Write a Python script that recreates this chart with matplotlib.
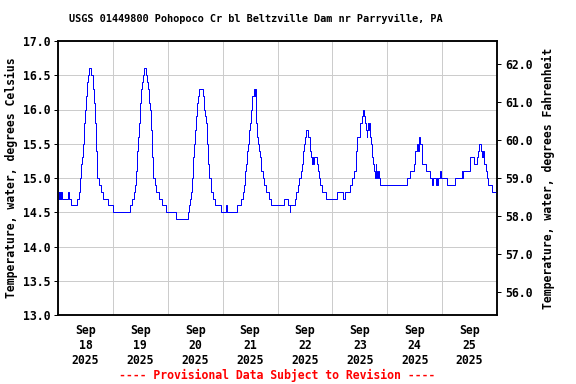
import matplotlib
matplotlib.use("Agg")
import matplotlib.pyplot as plt
import numpy as np

# Hours since Sep 18 00:00 at which the (0.1 degC resolution) reading changes, and the new value
hours = [0, 0.25, 0.5, 0.75, 1.0, 1.25, 1.5, 1.75, 4.5, 4.75, 5.75, 8.5, 9.0, 9.5, 9.75,
         10.0, 10.25, 10.5, 10.75, 11.0, 11.25, 11.5, 11.75, 12.0, 12.25, 12.5, 12.75, 13.0,
         13.5, 14.5, 15.25, 15.5, 15.75, 16.0, 16.25, 16.5, 16.75, 17.0, 17.25, 17.75, 18.75,
         19.75, 21.75, 24.25,
         31.5, 32.5, 33.25, 33.75, 34.0, 34.25, 34.5, 34.75, 35.0, 35.25, 35.5, 35.75, 36.0,
         36.25, 36.75, 37.25, 37.5, 38.5, 39.0, 39.5, 40.0, 40.25, 40.5, 40.75, 41.0, 41.25,
         41.5, 41.75, 42.25, 42.75, 44.0, 45.5, 47.25, 51.75, 56.75,
         57.25, 57.75, 58.0, 58.5, 58.75, 59.0, 59.25, 59.5, 59.75, 60.0, 60.25, 60.5, 60.75,
         61.0, 61.25, 61.75, 63.25, 63.75, 64.0, 64.5, 64.75, 65.0, 65.25, 65.5, 65.75, 66.0,
         66.25, 66.75, 67.0, 67.75, 68.75, 71.5, 73.5, 73.75,
         78.5, 80.25, 81.0, 81.5, 81.75, 82.0, 82.25, 82.5, 82.75, 83.25, 83.5, 83.75, 84.0,
         84.25, 84.5, 84.75, 85.0, 85.75, 86.0, 86.25, 86.5, 86.75, 87.0, 87.5, 88.0, 88.25,
         88.75, 89.0, 89.5, 90.25, 91.0, 92.25, 93.25,
         98.75, 100.5, 101.25, 101.5, 103.5, 104.0, 105.0, 105.5, 106.25, 106.75, 107.0,
         107.25, 107.75, 108.0, 108.5, 109.5, 110.0, 110.25, 110.75, 111.0, 111.25, 111.5,
         111.75, 113.25, 113.75, 114.25, 114.75, 115.25, 117.25, 122.0, 124.5, 125.5, 127.75,
         128.5, 129.25, 130.25, 130.5, 130.75, 132.0, 132.25, 132.75, 133.25, 134.0, 134.25,
         134.5, 135.0, 135.25, 135.5, 135.75, 136.0, 136.25, 137.0, 137.25, 137.75, 138.25,
         138.5, 139.0, 139.25, 139.5, 140.0, 140.25, 141.0, 152.5, 153.75, 155.5, 156.25,
         157.0, 157.5, 157.75, 158.0, 158.5, 159.0, 159.25, 160.75,
         162.5, 163.75, 164.0, 165.5, 165.75, 165.9, 166.2, 166.9, 167.1, 167.4, 167.7,
         170.25, 173.75, 176.5, 176.9, 177.1, 177.5, 180.0, 181.75, 183.25, 183.75, 184.25,
         185.0, 185.25, 185.5, 185.75, 186.0, 186.5, 187.0, 187.5, 188.0, 190.0, 192.0]
temps_c = [14.8, 14.7, 14.8, 14.7, 14.8, 14.7, 14.8, 14.7, 14.8, 14.7, 14.6, 14.7, 14.8, 14.9, 15.0,
           15.1, 15.2, 15.3, 15.4, 15.5, 15.7, 15.8, 15.9, 16.0, 16.2, 16.3, 16.4, 16.5,
           16.6, 16.5, 16.4, 16.3, 16.1, 16.0, 15.8, 15.6, 15.4, 15.2, 15.0, 14.9, 14.8,
           14.7, 14.6, 14.5,
           14.6, 14.7, 14.8, 14.9, 15.0, 15.1, 15.3, 15.4, 15.6, 15.7, 15.8, 16.0, 16.1,
           16.3, 16.4, 16.5, 16.6, 16.5, 16.4, 16.3, 16.1, 16.0, 15.9, 15.7, 15.5, 15.3,
           15.1, 15.0, 14.9, 14.8, 14.7, 14.6, 14.5, 14.4, 14.5,
           14.6, 14.7, 14.8, 14.9, 15.0, 15.2, 15.3, 15.5, 15.6, 15.7, 15.8, 15.9, 16.0,
           16.1, 16.2, 16.3, 16.2, 16.1, 16.0, 15.9, 15.8, 15.7, 15.5, 15.4, 15.2, 15.1,
           15.0, 14.9, 14.8, 14.7, 14.6, 14.5, 14.6, 14.5,
           14.6, 14.7, 14.8, 14.9, 15.0, 15.1, 15.2, 15.3, 15.4, 15.5, 15.6, 15.7, 15.8,
           15.9, 16.0, 16.1, 16.2, 16.3, 16.2, 16.3, 16.0, 15.8, 15.6, 15.5, 15.4, 15.3,
           15.2, 15.1, 15.0, 14.9, 14.8, 14.7, 14.6,
           14.7, 14.6, 14.5, 14.6, 14.7, 14.8, 14.9, 15.0, 15.1, 15.2, 15.3,
           15.4, 15.5, 15.6, 15.7, 15.6, 15.5, 15.4, 15.3, 15.2, 15.3, 15.2,
           15.3, 15.2, 15.1, 15.0, 14.9, 14.8, 14.7, 14.8, 14.7, 14.8, 14.9,
           15.0, 15.1, 15.3, 15.4, 15.6, 15.7, 15.8, 15.9, 16.0, 15.9, 15.8,
           15.7, 15.6, 15.7, 15.8, 15.7, 15.8, 15.6, 15.5, 15.3, 15.2, 15.1,
           15.0, 15.2, 15.1, 15.0, 15.1, 15.0, 14.9, 15.0, 15.1, 15.2, 15.4,
           15.5, 15.4, 15.5, 15.6, 15.5, 15.4, 15.2, 15.1,
           15.0, 14.9, 15.0, 14.9, 15.0, 14.9, 15.0, 15.0, 15.1, 15.1, 15.0,
           14.9, 15.0, 15.1, 15.0, 15.1, 15.1, 15.3, 15.2, 15.3, 15.4, 15.5,
           15.4, 15.3, 15.4, 15.3, 15.4, 15.2, 15.1, 15.0, 14.9, 14.8, 14.8]

day_labels = ["Sep\n18\n2025", "Sep\n19\n2025", "Sep\n20\n2025", "Sep\n21\n2025",
              "Sep\n22\n2025", "Sep\n23\n2025", "Sep\n24\n2025", "Sep\n25\n2025"]
celsius_ticks = [13.0, 13.5, 14.0, 14.5, 15.0, 15.5, 16.0, 16.5, 17.0]
fahrenheit_ticks = [56.0, 57.0, 58.0, 59.0, 60.0, 61.0, 62.0]

title = "USGS 01449800 Pohopoco Cr bl Beltzville Dam nr Parryville, PA"
left_label = "Temperature, water, degrees Celsius"
right_label = "Temperature, water, degrees Fahrenheit"
footer = "---- Provisional Data Subject to Revision ----"

FONT = "DejaVu Sans Mono"
plt.rcParams['font.family'] = [FONT]
plt.rcParams['font.weight'] = 'bold'
FS = 11.5

fig = plt.figure(figsize=(8, 384 / 72), dpi=72)
ax = fig.add_axes([58 / 576, 1 - 315 / 384, (497 - 58) / 576, (315 - 41) / 384])

ax.plot(hours, temps_c, drawstyle='steps-post', color='#0000FF', linewidth=1.0, zorder=3)

ax.set_xlim(0, 192)
ax.set_ylim(13.0, 17.0)
ax.set_yticks(celsius_ticks)
ax.set_yticklabels([f"{v:.1f}" for v in celsius_ticks], fontsize=FS, fontweight='bold')

days = np.arange(len(day_labels))
ax.set_xticks(days * 24)
ax.set_xticklabels([])
ax.set_xticks(days * 24 + 12, minor=True)
ax.set_xticklabels(day_labels, minor=True, fontsize=FS, fontweight='bold', linespacing=1.2)
ax.tick_params(axis='x', which='both', length=0, pad=9)
ax.tick_params(axis='y', length=4, width=1, direction='out', pad=3)

ax.grid(True, which='major', color='#cccccc', linewidth=1.0, zorder=0)
ax.set_axisbelow(True)
for s in ax.spines.values():
    s.set_linewidth(1.5)
    s.set_color('black')

ax.set_ylabel(left_label, fontsize=FS, fontweight='bold', labelpad=5)

ax2 = ax.twinx()
ax2.set_ylim(13.0 * 1.8 + 32, 17.0 * 1.8 + 32)
ax2.set_yticks(fahrenheit_ticks)
ax2.set_yticklabels([f"{v:.1f}" for v in fahrenheit_ticks], fontsize=FS, fontweight='bold')
ax2.tick_params(axis='y', length=4, width=1, direction='out', pad=4)
ax2.set_ylabel(right_label, fontsize=FS, fontweight='bold', labelpad=9)
for s in ax2.spines.values():
    s.set_linewidth(1.5)

fig.text(256 / 576, 1 - 19 / 384, title, ha='center', va='center', fontsize=10.2, fontweight='bold')
fig.text(277 / 576, 1 - 375 / 384, footer, ha='center', va='center', fontsize=FS,
         fontweight='bold', color='#FF0000')

fig.savefig("out.png", dpi=72)
